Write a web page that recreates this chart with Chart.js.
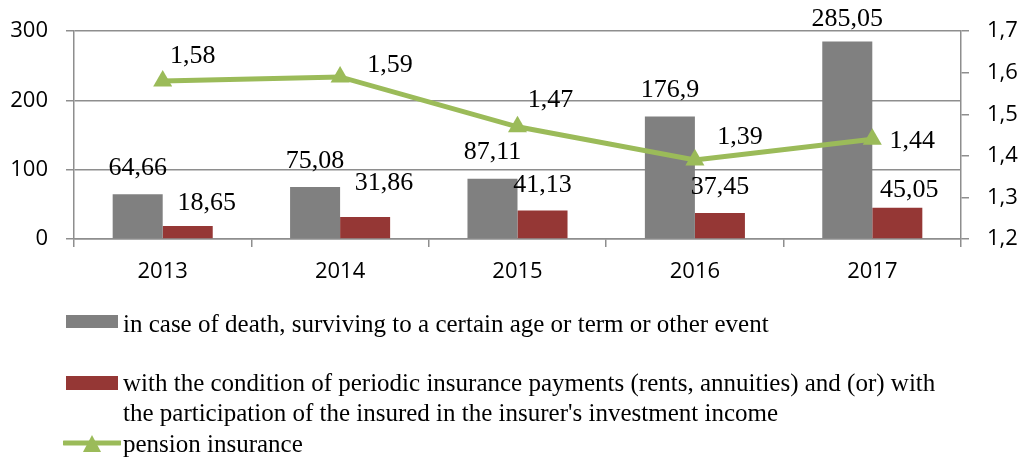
<!DOCTYPE html>
<html>
<head>
<meta charset="utf-8">
<script src="https://cdn.jsdelivr.net/npm/chart.js@4.4.1/dist/chart.umd.min.js"></script>
<style>
  body { margin: 0; background: #fff; }
  #wrap { position: relative; width: 1029px; height: 458px; }
  #legend { position: absolute; left: 0; top: 0; font-family: "Times New Roman", "Liberation Serif", serif; font-size: 25px; line-height: 30px; color: #000; }
  .item { position: absolute; left: 66px; }
  .item .text { position: absolute; left: 57px; top: 0; width: 830px; }
  .item .swatch { position: absolute; left: 0; width: 52px; }
</style>
</head>
<body>
<div id="wrap">
  <canvas id="myChart" width="1029" height="458"></canvas>
  <div id="legend"></div>
</div>
<script>
var years = ['2013', '2014', '2015', '2016', '2017'];
var deathOrSurvival = [64.66, 75.08, 87.11, 176.9, 285.05];
var periodicPayments = [18.65, 31.86, 41.13, 37.45, 45.05];
var pensionInsurance = [1.58, 1.59, 1.47, 1.39, 1.44];
var leftTicks = [0, 100, 200, 300];
var rightTicks = [1.2, 1.3, 1.4, 1.5, 1.6, 1.7];

var seriesNames = [
    'in case of death, surviving to a certain age or term or other event',
    'with the condition of periodic insurance payments (rents, annuities) and (or) with the participation of the insured in the insurer\'s investment income',
    'pension insurance'
];

// label nudges (x, y) in px, relative to the default spot
var grayShift = [[0, -26], [0, -26], [0, -26], [0, -26], [0, -22]];
var redShift = [[19, -23], [19, -34], [0, -25], [0, -26], [12, -18]];
var lineShift = [[30, -25], [50, -12], [33, -27], [45, -23], [40, 2]];

var commaNum = function (v) { return String(v).replace('.', ','); };

var valueLabels = {
    id: 'valueLabels',
    afterDatasetsDraw: function (chart) {
        var ctx = chart.ctx;
        ctx.save();
        ctx.font = '26px "Times New Roman", "Liberation Serif", serif';
        ctx.fillStyle = '#000';
        ctx.textAlign = 'center';
        ctx.textBaseline = 'middle';
        chart.data.datasets.forEach(function (ds, di) {
            var meta = chart.getDatasetMeta(di);
            meta.data.forEach(function (el, i) {
                var s = ds.labelShift[i];
                ctx.fillText(commaNum(ds.data[i]), el.x + s[0], el.y + s[1]);
            });
        });
        ctx.restore();
    }
};

var gridGray = '#8e8e8e';
var tickFont = { family: '"Open Sans", Calibri, sans-serif', size: 22 };

var myChart = new Chart(document.getElementById('myChart'), {
    data: {
        labels: years,
        datasets: [
            {
                type: 'line',
                label: seriesNames[2],
                data: pensionInsurance,
                yAxisID: 'y1',
                borderColor: '#9bbb59',
                backgroundColor: '#9bbb59',
                borderWidth: 5,
                pointStyle: 'triangle',
                pointRadius: 11,
                pointBorderWidth: 0,
                tension: 0,
                order: 0,
                labelShift: lineShift
            },
            {
                type: 'bar',
                label: seriesNames[0],
                data: deathOrSurvival,
                yAxisID: 'y',
                backgroundColor: '#808080',
                barPercentage: 1,
                categoryPercentage: 0.564,
                order: 1,
                labelShift: grayShift
            },
            {
                type: 'bar',
                label: seriesNames[1],
                data: periodicPayments,
                yAxisID: 'y',
                backgroundColor: '#953735',
                barPercentage: 1,
                categoryPercentage: 0.564,
                order: 1,
                labelShift: redShift
            }
        ]
    },
    options: {
        responsive: false,
        animation: false,
        layout: { padding: { top: 29, bottom: 159, left: 0, right: 0 } },
        plugins: {
            legend: { display: false },
            tooltip: { enabled: false }
        },
        scales: {
            x: {
                offset: true,
                grid: {
                    offset: true,
                    drawOnChartArea: false,
                    drawTicks: true,
                    tickLength: 8,
                    color: gridGray,
                    lineWidth: 1.5
                },
                border: { color: gridGray, width: 1.5 },
                ticks: { color: '#000', font: tickFont, padding: 12 },
                afterFit: function (s) { s.height = 60; }
            },
            y: {
                position: 'left',
                min: leftTicks[0],
                max: leftTicks[leftTicks.length - 1],
                afterBuildTicks: function (s) { s.ticks = leftTicks.map(function (v) { return { value: v }; }); },
                grid: { color: gridGray, lineWidth: 1.5, tickLength: 8 },
                border: { color: gridGray, width: 1.5 },
                ticks: { color: '#000', font: tickFont, padding: 18 },
                afterFit: function (s) { s.width = 74; }
            },
            y1: {
                position: 'right',
                min: rightTicks[0],
                max: rightTicks[rightTicks.length - 1],
                afterBuildTicks: function (s) { s.ticks = rightTicks.map(function (v) { return { value: v }; }); },
                grid: { drawOnChartArea: false, color: gridGray, lineWidth: 1.5, tickLength: 8 },
                border: { color: gridGray, width: 1.5 },
                ticks: {
                    color: '#000',
                    font: tickFont,
                    padding: 18,
                    callback: function (v) { return v.toFixed(1).replace('.', ','); }
                },
                afterFit: function (s) { s.width = 68; }
            }
        }
    },
    plugins: [valueLabels]
});

// legend below the chart, built from the datasets
var legendTops = [309, 368, 429];
var legendOrder = [1, 2, 0];
var legendBox = document.getElementById('legend');
legendOrder.forEach(function (di, k) {
    var ds = myChart.data.datasets[di];
    var item = document.createElement('div');
    item.className = 'item';
    item.style.top = legendTops[k] + 'px';
    var mark;
    if (ds.type === 'bar') {
        mark = document.createElement('div');
        mark.className = 'swatch';
        mark.style.top = (k === 0 ? 6 : 8) + 'px';
        mark.style.height = (k === 0 ? 13 : 14) + 'px';
        mark.style.background = ds.backgroundColor;
    } else {
        mark = document.createElementNS('http://www.w3.org/2000/svg', 'svg');
        mark.setAttribute('width', '58');
        mark.setAttribute('height', '20');
        mark.style.position = 'absolute';
        mark.style.left = '-3px';
        mark.style.top = '5px';
        mark.innerHTML = '<line x1="1" y1="9" x2="57" y2="9" stroke="' + ds.borderColor + '" stroke-width="5" stroke-linecap="round"/>' +
            '<polygon points="29,1 38,18 20,18" fill="' + ds.borderColor + '"/>';
    }
    var text = document.createElement('div');
    text.className = 'text';
    text.textContent = ds.label;
    item.appendChild(mark);
    item.appendChild(text);
    legendBox.appendChild(item);
});
</script>
</body>
</html>
